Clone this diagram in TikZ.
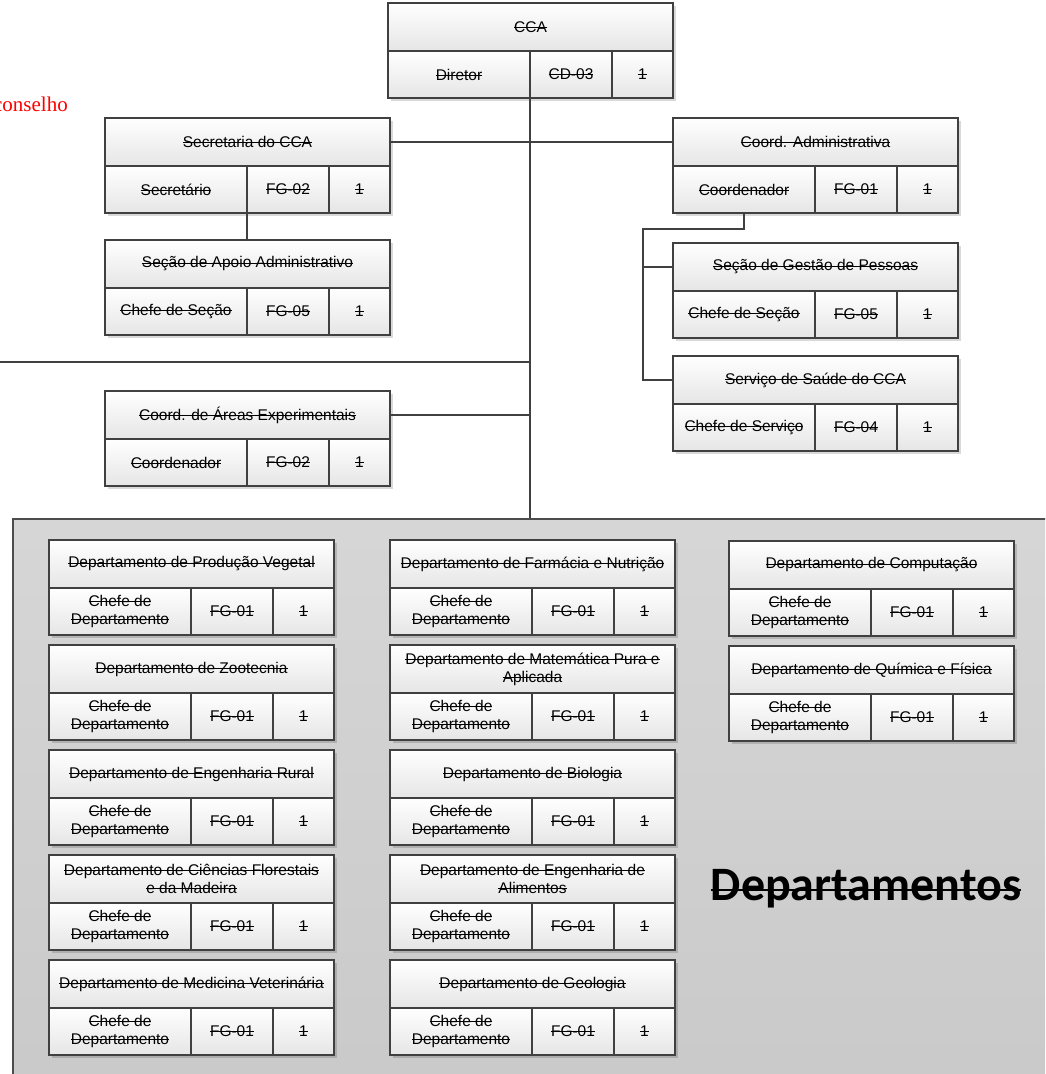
\documentclass[tikz,border=0pt]{standalone}
\usepackage{fontspec}
\setmainfont{Liberation Sans}
\newfontfamily\tnr{Liberation Serif}
\newfontfamily\calib{Carlito}
\usetikzlibrary{shadows}
\definecolor{linec}{HTML}{404040}
\newsavebox{\stbox}
\newcommand{\strk}[3]{\leavevmode\sbox{\stbox}{#3}\rlap{\rule[#1]{\wd\stbox}{#2}}\usebox{\stbox}}
\newcommand{\st}[1]{\strk{.3em}{.8pt}{#1}}
\newcommand{\chefe}{\st{Chefe de}\\\st{Departamento}}
\tikzset{
  base/.style={draw=linec, line width=1.5pt, inner sep=0pt, outer sep=0pt,
    anchor=north west, align=center, text=black,
    font=\fontsize{15.5}{18}\selectfont, top color=white, bottom color=black!10},
  hdr/.style={base, minimum width=285pt, minimum height=48pt},
  cell/.style={base, minimum height=47pt},
  boxbg/.style={anchor=north west, fill=white, inner sep=0pt, outer sep=0pt,
    minimum width=285pt, minimum height=95pt,
    drop shadow={shadow xshift=3pt, shadow yshift=-3pt, fill=black, opacity=.15}},
  conn/.style={draw=linec, line width=1.9pt},
  graybox/.style={draw=black!70, line width=1.5pt, anchor=north west, inner sep=0pt,
    top color=black!16, bottom color=black!21}
}
\newcommand{\orgbox}[7]{%
  \node[boxbg] (#1) at (#2,#3) {};
  \node[hdr] (#1h) at (#2,#3) {#4};
  \node[cell, minimum width=142pt] (#1a) at (#2,#3+48) {#5};
  \node[cell, minimum width=82pt] (#1b) at (#2+142,#3+48) {#6};
  \node[cell, minimum width=61pt] (#1c) at (#2+224,#3+48) {#7};
}
\begin{document}
\begin{tikzpicture}[x=1pt, y=-1pt]
\useasboundingbox (0,0) rectangle (1045,1074);
\clip (0,0) rectangle (1045,1074);

% departments container
\node[graybox, minimum width=1050pt, minimum height=570pt] (deps) at (12,518) {};

% red text
\node[anchor=base east, text=red, font=\tnr\fontsize{21}{24}\selectfont, inner sep=0pt] (cons) at (68,111) {conselho};

% top level boxes
\orgbox{cca}{388}{3}{\st{CCA}}{\st{Diretor}}{\st{CD-03}}{\st{1}}
\orgbox{sec}{105}{118}{\st{Secretaria do CCA}}{\st{Secretário}}{\st{FG-02}}{\st{1}}
\orgbox{coord}{673}{118}{\st{Coord. Administrativa}}{\st{Coordenador}}{\st{FG-01}}{\st{1}}
\orgbox{apoio}{105}{240}{\st{Seção de Apoio Administrativo}}{\st{Chefe de Seção}}{\st{FG-05}}{\st{1}}
\orgbox{gest}{673}{243}{\st{Seção de Gestão de Pessoas}}{\st{Chefe de Seção}}{\st{FG-05}}{\st{1}}
\orgbox{saude}{673}{356}{\st{Serviço de Saúde do CCA}}{\st{Chefe de Serviço}}{\st{FG-04}}{\st{1}}
\orgbox{areas}{105}{391}{\st{Coord. de Áreas Experimentais}}{\st{Coordenador}}{\st{FG-02}}{\st{1}}

% connectors
\draw[conn] (ccaa.south east) -- (ccaa.south east |- deps.north);
\draw[conn] (sech.east) -- (coordh.west);
\coordinate (leftend) at (0,362);
\draw[conn] (leftend) -- (leftend -| ccaa.south east);
\draw[conn] (areash.east) -- (areash.east -| ccaa.south east);
\draw[conn] (seca.south east) -- (seca.south east |- apoioh.north);
\coordinate (bus) at (643,229);
\draw[conn] (coorda.south) |- (bus) |- (saudeh.west);
\draw[conn] (bus |- gesth.west) -- (gesth.west);

% departments column 1
\orgbox{dpv}{49}{540}{\st{Departamento de Produção Vegetal}}{\chefe}{\st{FG-01}}{\st{1}}
\orgbox{dzo}{49}{645}{\st{Departamento de Zootecnia}}{\chefe}{\st{FG-01}}{\st{1}}
\orgbox{der}{49}{750}{\st{Departamento de Engenharia Rural}}{\chefe}{\st{FG-01}}{\st{1}}
\orgbox{dcf}{49}{855}{\st{Departamento de Ciências Florestais}\\\st{e da Madeira}}{\chefe}{\st{FG-01}}{\st{1}}
\orgbox{dmv}{49}{960}{\st{Departamento de Medicina Veterinária}}{\chefe}{\st{FG-01}}{\st{1}}
% column 2
\orgbox{dfn}{390}{540}{\st{Departamento de Farmácia e Nutrição}}{\chefe}{\st{FG-01}}{\st{1}}
\orgbox{dma}{390}{645}{\st{Departamento de Matemática Pura e}\\\st{Aplicada}}{\chefe}{\st{FG-01}}{\st{1}}
\orgbox{dbi}{390}{750}{\st{Departamento de Biologia}}{\chefe}{\st{FG-01}}{\st{1}}
\orgbox{dea}{390}{855}{\st{Departamento de Engenharia de}\\\st{Alimentos}}{\chefe}{\st{FG-01}}{\st{1}}
\orgbox{dge}{390}{960}{\st{Departamento de Geologia}}{\chefe}{\st{FG-01}}{\st{1}}
% column 3
\orgbox{dco}{729}{541}{\st{Departamento de Computação}}{\chefe}{\st{FG-01}}{\st{1}}
\orgbox{dqf}{729}{646}{\st{Departamento de Química e Física}}{\chefe}{\st{FG-01}}{\st{1}}

% title
\node[anchor=base, inner sep=0pt, font=\calib\bfseries\fontsize{48}{56}\selectfont] (deptitle) at (866,900)
  {\strk{.19em}{2.2pt}{Departamentos}};
\end{tikzpicture}
\end{document}
